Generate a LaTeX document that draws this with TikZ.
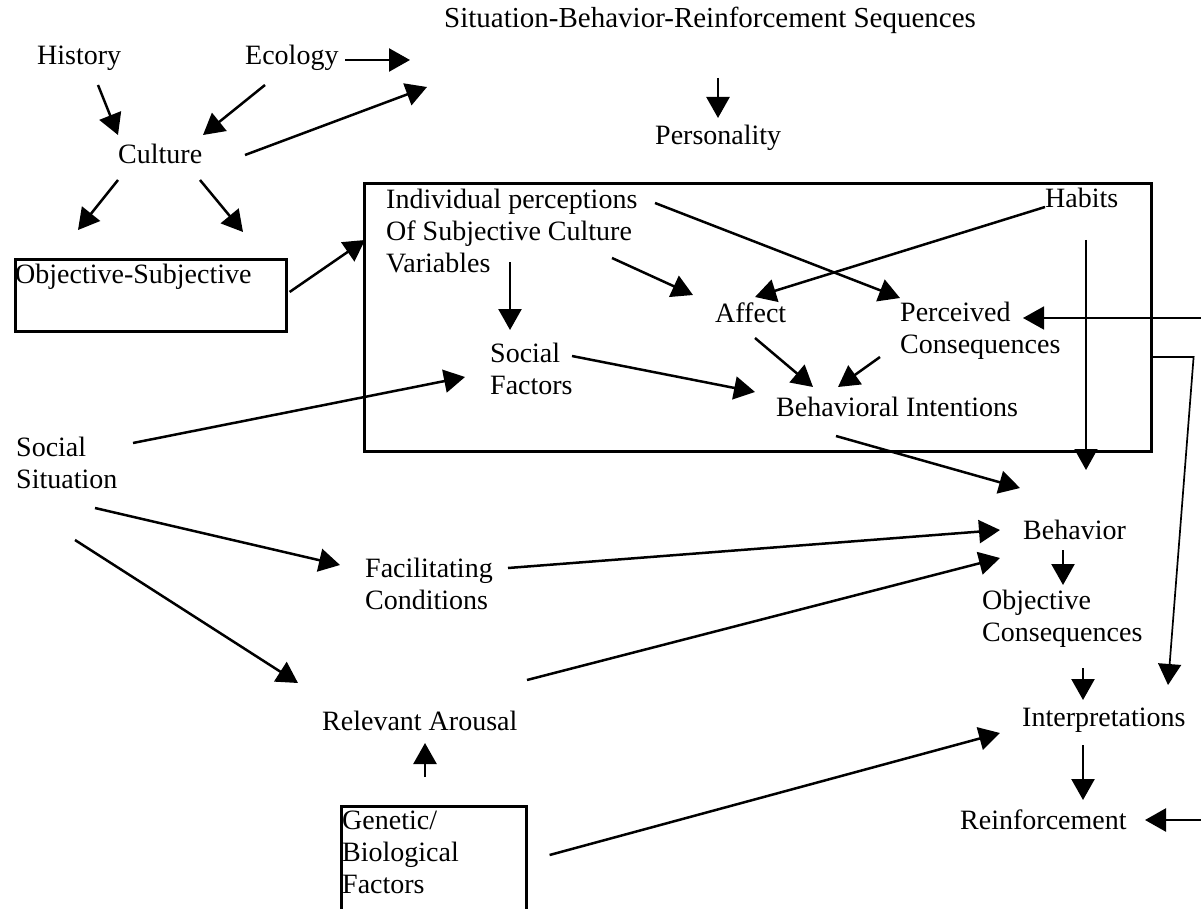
\documentclass[tikz,border=0pt]{standalone}
\usepackage{fontspec}
\setmainfont{Liberation Serif}
\usetikzlibrary{arrows.meta}
\begin{document}
\begin{tikzpicture}[x=1pt,y=-1pt,
  lbl/.style={anchor=west,inner sep=0pt,align=left,font=\fontsize{28}{32}\selectfont},
  frame/.style={draw,line width=2.6pt,inner sep=0pt,anchor=north west},
  arr/.style={line width=2.5pt,-{Triangle[length=21pt,width=23pt]}},
  thinarr/.style={line width=1.7pt,-{Triangle[length=21pt,width=23pt]}}]
\useasboundingbox (0,0) rectangle (1201,909);
\fill[white] (0,0) rectangle (1201,909);

% boxes
\node[frame,minimum width=271pt,minimum height=72pt] (osbox) at (14,258) {};
\node[frame,minimum width=787pt,minimum height=268pt] (bigbox) at (363,182) {};
\node[frame,minimum width=185pt,minimum height=130pt] (genbox) at (340,805) {};

% labels
\node[lbl,font=\fontsize{29}{32}\selectfont] (sbr) at (444,20) {Situation-Behavior-Reinforcement Sequences};
\node[lbl] (hist) at (37,58) {History};
\node[lbl] (eco) at (245,58) {Ecology};
\node[lbl] (cult) at (118,154) {Culture};
\node[lbl] (pers) at (655,138) {Personality};
\node[lbl] (ostext) at (15,277) {Objective-Subjective};
\node[lbl] (indiv) at (386,231) {Individual perceptions\\Of Subjective Culture\\Variables};
\node[lbl] (habits) at (1045,198) {Habits};
\node[lbl] (affect) at (715,313) {Affect};
\node[lbl] (percons) at (900,331) {Perceived\\Consequences};
\node[lbl] (social) at (490,369) {Social\\Factors};
\node[lbl] (bi) at (776,407) {Behavioral Intentions};
\node[lbl] (socsit) at (16,463) {Social\\Situation};
\node[lbl] (facil) at (365,584) {Facilitating\\Conditions};
\node[lbl] (behav) at (1023,530) {Behavior};
\node[lbl] (objcons) at (982,619) {Objective\\Consequences};
\node[lbl] (arousal) at (322,721) {Relevant Arousal};
\node[lbl] (interp) at (1022,720) {Interpretations};
\node[lbl] (gentext) at (342,852) {Genetic/\\Biological\\Factors};
\node[lbl] (reinf) at (960,820) {Reinforcement};

\coordinate (rin1) at (1201,318);
\coordinate (rin2) at (1201,820);

% connectors
\draw[arr] ([shift={(61,27)}]hist.west) -- ([shift={(0,-19)}]cult.west);
\draw[arr] ([shift={(20,27)}]eco.west) -- ([shift={(85,-19)}]cult.west);
\draw[arr] ([shift={(100,2)}]eco.west) -- ([shift={(-34,40)}]sbr.west);
\draw[arr] ([shift={(127,1)}]cult.west) -- ([shift={(-17,67)}]sbr.west);
\draw[arr] ([shift={(274,58)}]sbr.west) -- ([shift={(63,-20)}]pers.west);
\draw[arr] ([shift={(0,26)}]cult.west) -- ([shift={(64,-28)}]osbox.north west);
\draw[arr] ([shift={(82,26)}]cult.west) -- ([shift={(229,-26)}]osbox.north west);
\draw[arr] ([shift={(2,34)}]osbox.north east) -- ([shift={(2,58)}]bigbox.north west);

\draw[arr] ([shift={(124,31)}]indiv.west) -- ([shift={(20,-39)}]social.west);
\draw[arr] ([shift={(226,27)}]indiv.west) -- ([shift={(-22,-18)}]affect.west);
\draw[arr] ([shift={(269,-28)}]indiv.west) -- ([shift={(0,-33)}]percons.west);
\draw[arr] ([shift={(0,9)}]habits.west) -- ([shift={(40,-16)}]affect.west);
\draw[thinarr] ([shift={(41,42)}]habits.west) -- ([shift={(63,-60)}]behav.west);
\draw[thinarr] (rin1) -- ([shift={(123,-13)}]percons.west);
\draw[thinarr] ([shift={(0,175)}]bigbox.north east) -- ++(41,0) -- ([shift={(146,-35)}]interp.west);

\draw[arr] ([shift={(82,-13)}]social.west) -- ([shift={(-21,-15)}]bi.west);
\draw[arr] ([shift={(40,25)}]affect.west) -- ([shift={(37,-20)}]bi.west);
\draw[arr] ([shift={(-20,26)}]percons.west) -- ([shift={(62,-20)}]bi.west);
\draw[arr] ([shift={(60,29)}]bi.west) -- ([shift={(-3,-42)}]behav.west);

\draw[arr] ([shift={(117,-20)}]socsit.west) -- ([shift={(-25,8)}]social.west);
\draw[arr] ([shift={(79,45)}]socsit.west) -- ([shift={(-25,-19)}]facil.west);
\draw[arr] ([shift={(59,77)}]socsit.west) -- ([shift={(-24,-38)}]arousal.west);
\draw[arr] ([shift={(143,-16)}]facil.west) -- ([shift={(-23,0)}]behav.west);
\draw[arr] ([shift={(205,-41)}]arousal.west) -- ([shift={(-23,28)}]behav.west);

\draw[arr] ([shift={(40,20)}]behav.west) -- ([shift={(81,-34)}]objcons.west);
\draw[arr] ([shift={(101,49)}]objcons.west) -- ([shift={(61,-20)}]interp.west);
\draw[arr] ([shift={(85,-28)}]genbox.north west) -- ([shift={(103,22)}]arousal.west);
\draw[arr] ([shift={(22,50)}]genbox.north east) -- ([shift={(-22,13)}]interp.west);
\draw[arr] ([shift={(61,25)}]interp.west) -- ([shift={(123,-20)}]reinf.west);
\draw[arr] (rin2) -- ([shift={(185,0)}]reinf.west);
\end{tikzpicture}
\end{document}
